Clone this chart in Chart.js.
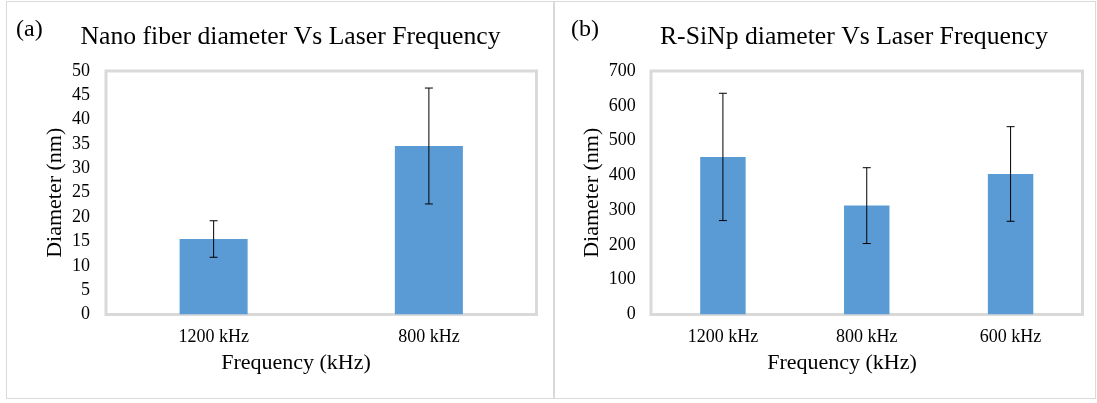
<!DOCTYPE html>
<html><head><meta charset="utf-8">
<script src="https://cdn.jsdelivr.net/npm/chart.js@4.4.1/dist/chart.umd.min.js"></script>
<style>
html,body{margin:0;padding:0;background:#fff;width:1097px;height:403px;overflow:hidden;}
.frame{position:absolute;border:1px solid #d9d9d9;box-sizing:border-box;}
canvas{position:absolute;top:0;}
</style></head><body>
<div class="frame" style="left:6px;top:1px;width:548px;height:398px"></div>
<div class="frame" style="left:554px;top:1px;width:542px;height:398px"></div>
<canvas id="c1" width="554" height="403" style="left:0;width:554px;height:403px"></canvas>
<canvas id="c2" width="543" height="403" style="left:554px;width:543px;height:403px"></canvas>
<script>
// ---- data ----
const nanoTitle = 'Nano fiber diameter Vs Laser Frequency';
const nanoCategories = ['1200 kHz', '800 kHz'];
const nanoDiameter = [15.5, 34.6];
const nanoError = [3.75, 11.9];
const nanoYMax = 50;
const nanoYStep = 5;

const sinpTitle = 'R-SiNp diameter Vs Laser Frequency';
const sinpCategories = ['1200 kHz', '800 kHz', '600 kHz'];
const sinpDiameter = [453, 313, 404];
const sinpError = [183, 109, 136];
const sinpYMax = 700;
const sinpYStep = 100;

const xAxisTitle = 'Frequency (kHz)';
const yAxisTitle = 'Diameter (nm)';

// ---- styling ----
const FONT = "'Liberation Serif', 'Times New Roman', serif";
const BAR_COLOR = '#5B9BD5';
const AXIS_TITLE_SIZE = 22;

const plotFrame = {
  id: 'plotFrame',
  beforeDatasetsDraw(chart) {
    const {ctx, chartArea: a} = chart;
    ctx.save();
    ctx.strokeStyle = '#d9d9d9';
    ctx.lineWidth = 3;
    ctx.strokeRect(a.left, a.top, a.right - a.left, a.bottom - a.top);
    ctx.restore();
  }
};

const errorBars = {
  id: 'errorBars',
  afterDatasetsDraw(chart, args, opts) {
    const meta = chart.getDatasetMeta(0);
    const ys = chart.scales.y;
    const ctx = chart.ctx;
    const vals = chart.data.datasets[0].data;
    ctx.save();
    ctx.strokeStyle = opts.color;
    ctx.lineWidth = 1;
    meta.data.forEach((bar, i) => {
      const v = vals[i], e = opts.errors[i];
      const x = bar.x;
      const yt = ys.getPixelForValue(v + e);
      const yb = ys.getPixelForValue(v - e);
      ctx.beginPath();
      ctx.moveTo(x, yt); ctx.lineTo(x, yb);
      ctx.moveTo(x - opts.cap, yt); ctx.lineTo(x + opts.cap, yt);
      ctx.moveTo(x - opts.cap, yb); ctx.lineTo(x + opts.cap, yb);
      ctx.stroke();
    });
    ctx.restore();
  }
};

const panelText = {
  id: 'panelText',
  afterDraw(chart, args, opts) {
    const ctx = chart.ctx;
    ctx.save();
    ctx.fillStyle = '#000';
    ctx.textBaseline = 'alphabetic';
    ctx.font = `${opts.letterSize}px ${FONT}`;
    ctx.textAlign = 'left';
    ctx.fillText(opts.letter, opts.letterX, opts.letterY);
    ctx.textAlign = 'center';
    ctx.font = `${opts.titleSize}px ${FONT}`;
    ctx.fillText(opts.title, opts.titleX, opts.titleY);
    ctx.font = `${opts.xTitleSize}px ${FONT}`;
    ctx.fillText(opts.xTitle, opts.xTitleX, opts.xTitleY);
    ctx.restore();
  }
};

function makeChart(id, cats, vals, errs, yMax, yStep, pad, yAxisW, yTitleCenter, yTickPad, texts) {
  const yTitlePad = yTitleCenter - AXIS_TITLE_SIZE * 1.2 / 2;
  return new Chart(document.getElementById(id), {
    type: 'bar',
    data: {
      labels: cats,
      datasets: [{
        data: vals,
        backgroundColor: BAR_COLOR,
        borderWidth: 0,
        categoryPercentage: 1,
        barPercentage: 0.316
      }]
    },
    options: {
      responsive: false,
      devicePixelRatio: 1,
      animation: false,
      layout: {padding: {left: 0, right: pad.right, top: pad.top, bottom: 0}},
      plugins: {
        legend: {display: false},
        tooltip: {enabled: false},
        title: {display: false},
        errorBars: {errors: errs, color: '#000', cap: 4},
        panelText: texts
      },
      scales: {
        x: {
          grid: {display: false, drawTicks: false, tickLength: 0},
          border: {display: false},
          ticks: {color: '#000', font: {family: FONT, size: 18}, padding: 11.7, maxRotation: 0, autoSkip: false},
          title: {display: false},
          afterFit(scale) { scale.height = 403 - pad.bottomEdge; }
        },
        y: {
          min: 0, max: yMax,
          grid: {display: false, drawTicks: false, tickLength: 0},
          border: {display: false},
          ticks: {stepSize: yStep, autoSkip: false, maxTicksLimit: 30, color: '#000', font: {family: FONT, size: 18}, padding: yTickPad},
          title: {display: true, text: yAxisTitle, color: '#000', font: {family: FONT, size: AXIS_TITLE_SIZE}, padding: {top: yTitlePad, bottom: 0}},
          afterFit(scale) { scale.width = yAxisW; }
        }
      }
    },
    plugins: [plotFrame, errorBars, panelText]
  });
}

makeChart('c1', nanoCategories, nanoDiameter, nanoError, nanoYMax, nanoYStep,
  {right: 554 - 536.5, top: 71, bottomEdge: 314.5}, 106, 55, 16,
  {letter: '(a)', letterX: 16, letterY: 36, letterSize: 24,
   title: nanoTitle, titleX: 290.5, titleY: 44, titleSize: 25.7,
   xTitle: xAxisTitle, xTitleX: 296, xTitleY: 368.5, xTitleSize: AXIS_TITLE_SIZE});

makeChart('c2', sinpCategories, sinpDiameter, sinpError, sinpYMax, sinpYStep,
  {right: 543 - 528.5, top: 71, bottomEdge: 314.5}, 97, 38, 15.3,
  {letter: '(b)', letterX: 17, letterY: 36, letterSize: 24,
   title: sinpTitle, titleX: 300, titleY: 44, titleSize: 25.7,
   xTitle: xAxisTitle, xTitleX: 288, xTitleY: 368.5, xTitleSize: AXIS_TITLE_SIZE});
</script>
</body></html>
